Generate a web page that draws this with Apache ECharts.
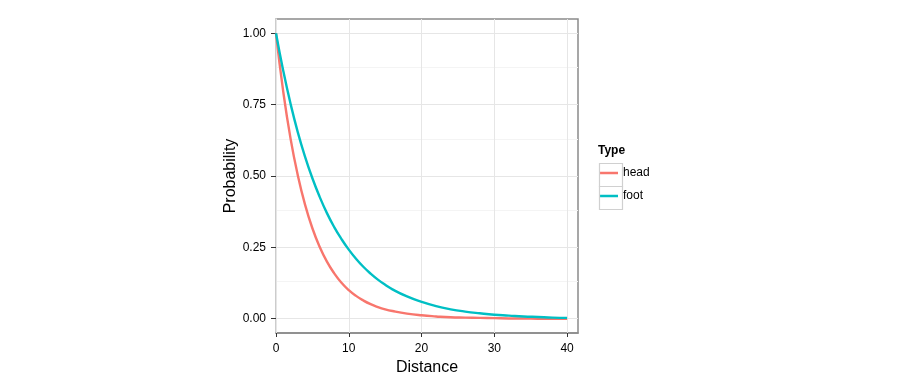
<!DOCTYPE html>
<html>
<head>
<meta charset="utf-8">
<script src="https://cdn.jsdelivr.net/npm/echarts@6/dist/echarts.min.js"></script>
<style>html,body{margin:0;padding:0;background:#fff}#c{width:900px;height:384px}</style>
</head>
<body>
<div id="c"></div>
<script>
var distances = [0,1,2,3,4,5,6,7,8,9,10,11,12,13,14,15,16,18,20,22,24,26,28,30,32,34,36,38,40];
var headValues = [1.000,0.795,0.631,0.502,0.399,0.317,0.252,0.200,0.159,0.126,0.100,0.080,0.064,0.051,0.041,0.033,0.027,0.018,0.012,0.008,0.005,0.004,0.003,0.002,0.001,0.001,0.000,0.000,0.000];
var footValues = [1.000,0.868,0.753,0.653,0.567,0.492,0.427,0.370,0.321,0.279,0.242,0.210,0.182,0.158,0.137,0.119,0.103,0.078,0.059,0.044,0.033,0.025,0.019,0.014,0.011,0.008,0.006,0.004,0.003];
var xTicks = [0,10,20,30,40];
var yTicks = [0,0.25,0.5,0.75,1];
var yMinor = [0.125,0.375,0.625,0.875];
var seriesNames = ['head','foot'];
var seriesColors = ['#F8766D','#00BFC4'];

var font = 'Liberation Sans, Arial, sans-serif';
function pairs(xs, ys){ return xs.map(function(x,i){ return [x, ys[i]]; }); }

var gridLines = [];
yMinor.forEach(function(v){ gridLines.push({yAxis:v, lineStyle:{color:'#f4f4f4',width:1,type:'solid'}}); });
yTicks.forEach(function(v){ gridLines.push({yAxis:v, lineStyle:{color:'#e6e6e6',width:1,type:'solid'}}); });
xTicks.forEach(function(v){ gridLines.push({xAxis:v, lineStyle:{color:'#e6e6e6',width:1,type:'solid'}}); });

var chart = echarts.init(document.getElementById('c'), null, {renderer:'canvas'});
chart.setOption({
  animation:false,
  backgroundColor:'#ffffff',
  title:{text:'Type', left:598, top:145, padding:0, textStyle:{fontFamily:font, fontSize:12, fontWeight:'bold', color:'#000'}},
  legend:{
    orient:'vertical', left:599, top:166, padding:0, itemWidth:19, itemHeight:2.5, itemGap:9,
    icon:'rect',
    data:seriesNames,
    textStyle:{fontFamily:font, fontSize:12, color:'#000', lineHeight:14}
  },
  grid:{left:276, right:322, top:19, bottom:51, show:true, borderColor:'#8a8a8a', borderWidth:1.5, backgroundColor:'#fff'},
  xAxis:{
    type:'value', min:0, max:41.5,
    name:'Distance', nameLocation:'middle', nameGap:21,
    nameTextStyle:{fontFamily:font, fontSize:16, color:'#000'},
    axisLine:{show:true, onZero:false, lineStyle:{color:'#8a8a8a', width:1.5}},
    axisTick:{show:true, length:4, customValues:xTicks, lineStyle:{color:'#333'}},
    axisLabel:{customValues:xTicks, margin:10, fontFamily:font, fontSize:12, color:'#000'},
    splitLine:{show:false}
  },
  yAxis:{
    type:'value', min:-0.05, max:1.05,
    name:'Probability', nameLocation:'middle', nameGap:36,
    nameTextStyle:{fontFamily:font, fontSize:16, color:'#000'},
    axisLine:{show:true, onZero:false, lineStyle:{color:'#cccccc', width:2}},
    axisTick:{show:true, length:5, customValues:yTicks, lineStyle:{color:'#333'}},
    axisLabel:{customValues:yTicks, margin:10, fontFamily:font, fontSize:12, color:'#000',
      formatter:function(v){ return v.toFixed(2); }},
    splitLine:{show:false}
  },
  series:[
    {type:'line', name:'_grid', data:[], z:1, silent:true,
      markLine:{silent:true, z:1, symbol:'none', label:{show:false}, data:gridLines, animation:false}},
    {type:'line', name:seriesNames[0], data:pairs(distances, headValues), smooth:true, showSymbol:false, symbol:'none', z:3,
      itemStyle:{color:seriesColors[0]}, lineStyle:{color:seriesColors[0], width:2.4}},
    {type:'line', name:seriesNames[1], data:pairs(distances, footValues), smooth:true, showSymbol:false, symbol:'none', z:3,
      itemStyle:{color:seriesColors[1]}, lineStyle:{color:seriesColors[1], width:2.4}}
  ],
  graphic:[
    {type:'rect', left:597, top:161, shape:{width:23, height:23}, style:{fill:'none', stroke:'#d0d0d0', lineWidth:1.2}, z:10},
    {type:'rect', left:597, top:184, shape:{width:23, height:23}, style:{fill:'none', stroke:'#d0d0d0', lineWidth:1.2}, z:10}
  ]
});
</script>
</body>
</html>
